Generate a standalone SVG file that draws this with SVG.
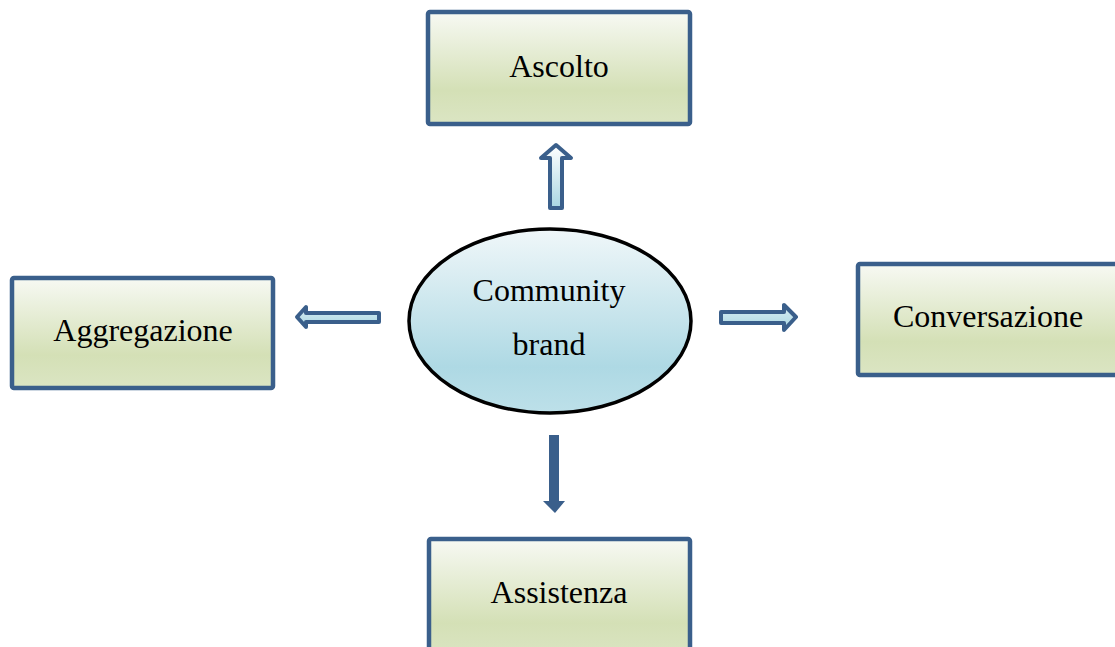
<svg xmlns="http://www.w3.org/2000/svg" width="1115" height="647" viewBox="0 0 1115 647">
<defs>
<linearGradient id="gBox" x1="0" y1="0" x2="0" y2="1">
<stop offset="0" stop-color="#f7f9f3"/>
<stop offset="0.7" stop-color="#d4e0b6"/>
<stop offset="1" stop-color="#dbe5c3"/>
</linearGradient>
<linearGradient id="gEll" x1="0" y1="0" x2="0" y2="1">
<stop offset="0" stop-color="#f0f7f9"/>
<stop offset="0.75" stop-color="#aed9e4"/>
<stop offset="1" stop-color="#bde0e9"/>
</linearGradient>
<linearGradient id="gArrV" x1="0" y1="0" x2="0" y2="1">
<stop offset="0" stop-color="#ffffff"/>
<stop offset="1" stop-color="#a9d6e2"/>
</linearGradient>
<linearGradient id="gArrH" x1="0" y1="0" x2="0" y2="1">
<stop offset="0" stop-color="#d9eef3"/>
<stop offset="1" stop-color="#a9d6e2"/>
</linearGradient>
<style>
.box{fill:url(#gBox);stroke:#3a5f8b;stroke-width:4.5;}
.lbl{font-family:"Liberation Serif","Times New Roman",serif;font-size:32px;fill:#000;text-anchor:middle;}
.arr{stroke:#3a5f8b;stroke-width:4;stroke-linejoin:round;}
</style>
</defs>
<g id="connectors">
<path class="arr" fill="url(#gArrV)" d="M556,145 L571,158 L562,158 L562,208 L550,208 L550,158 L541,158 Z"/>
<path class="arr" fill="url(#gArrH)" d="M297,317 L306,307 L306,313 L379,313 L379,322 L306,322 L306,327 Z"/>
<path class="arr" fill="url(#gArrH)" stroke-linejoin="miter" d="M796,317 L784,305 L784,312 L721,312 L721,323 L784,323 L784,330 Z"/>
<path fill="#3a5f8b" d="M549,435 L559,435 L559,501 L565,501 L555,513 L543,501 L549,501 Z"/>
</g>
<g id="ascolto">
<rect class="box" x="428" y="12" width="262" height="112" rx="2"/>
<text class="lbl" x="559" y="77">Ascolto</text>
</g>
<g id="aggregazione">
<rect class="box" x="12" y="278" width="261" height="110" rx="2"/>
<text class="lbl" x="143" y="341">Aggregazione</text>
</g>
<g id="conversazione">
<rect class="box" x="858" y="264" width="262" height="111" rx="2"/>
<text class="lbl" x="988" y="327">Conversazione</text>
</g>
<g id="assistenza">
<rect class="box" x="429" y="539" width="261" height="120" rx="2"/>
<text class="lbl" x="559" y="603">Assistenza</text>
</g>
<g id="community">
<ellipse cx="550" cy="321" rx="141" ry="92" fill="url(#gEll)" stroke="#000" stroke-width="3.5"/>
<text class="lbl" x="549" y="301">Community</text>
<text class="lbl" x="549" y="355">brand</text>
</g>
</svg>
